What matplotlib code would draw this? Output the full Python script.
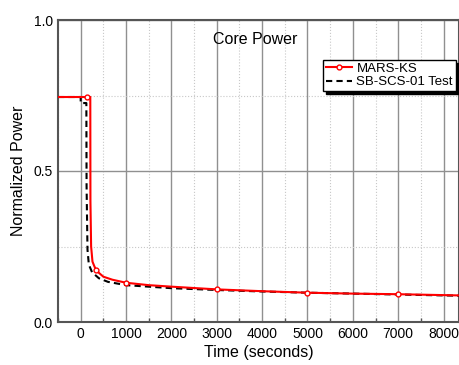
import matplotlib.pyplot as plt
from matplotlib.ticker import MultipleLocator

plt.rcParams['font.family'] = ['Liberation Sans', 'DejaVu Sans']

# MARS-KS calculation
mars_t = [-500, 150, 212, 215, 230, 260, 300, 340, 400, 500, 700, 1000, 1500,
          2000, 3000, 4000, 5000, 6000, 7000, 8350]
mars_p = [0.745, 0.745, 0.745, 0.40, 0.25, 0.20, 0.185, 0.172, 0.163, 0.150,
          0.140, 0.130, 0.122, 0.117, 0.108, 0.102, 0.097, 0.094, 0.092, 0.088]
mars_marks = [1, 7, 11, 14, 16, 18]

# SB-SCS-01 test data
test_t = [-500, 0, 0, 125, 130, 150, 180, 250, 400, 600, 1000, 2000, 3000,
          4000, 5000, 6000, 7000, 8350]
test_p = [0.745, 0.745, 0.725, 0.725, 0.45, 0.24, 0.19, 0.165, 0.145, 0.133,
          0.122, 0.112, 0.106, 0.101, 0.097, 0.094, 0.091, 0.087]

fig = plt.figure(figsize=(4.59, 3.65), dpi=100)
ax = fig.add_axes([58 / 459, 1 - 322 / 365, 1 - 58 / 459, 302 / 365])

ax.plot(test_t, test_p, color='black', linestyle='--', linewidth=1.5,
        dashes=(3, 2), label='SB-SCS-01 Test', zorder=3)
ax.plot(mars_t, mars_p, color='red', linewidth=1.5, marker='o', markersize=3.5,
        markerfacecolor='white', markeredgecolor='red', markevery=mars_marks,
        label='MARS-KS', zorder=4)

ax.set_xlim(-500, 8340)
ax.set_ylim(0, 1.0)
ax.xaxis.set_major_locator(MultipleLocator(1000))
ax.xaxis.set_minor_locator(MultipleLocator(500))
ax.yaxis.set_major_locator(MultipleLocator(0.5))
ax.yaxis.set_minor_locator(MultipleLocator(0.25))
ax.set_xticks(range(0, 8001, 1000))
ax.set_yticks([0.0, 0.5, 1.0])
ax.set_yticklabels(['0.0', '0.5', '1.0'])

ax.grid(True, which='major', color='#909090', linewidth=1.0)
ax.grid(True, which='minor', color='#c8c8c8', linewidth=0.8, linestyle=':')
ax.set_axisbelow(True)
ax.tick_params(which='both', direction='in', labelsize=10, color='#555555')
ax.tick_params(which='major', length=0)
ax.tick_params(axis='x', which='minor', length=3, width=1)
ax.tick_params(axis='y', which='minor', length=0)
for s in ax.spines.values():
    s.set_color('#555555')
    s.set_linewidth(1.5)

ax.set_xlabel('Time (seconds)', fontsize=11.5, labelpad=3)
ax.set_ylabel('Normalized Power', fontsize=11.5, labelpad=6)
ax.text(3850, 0.935, 'Core Power', ha='center', va='center', fontsize=11.5)

h, l = ax.get_legend_handles_labels()
leg = ax.legend(h[::-1], l[::-1], loc='upper left', bbox_to_anchor=(0.662, 0.868),
                fancybox=False, shadow={'color': 'black', 'alpha': 1},
                edgecolor='black', fontsize=9.5, handlelength=2.0,
                borderpad=0.2, labelspacing=0.1, handletextpad=0.3,
                borderaxespad=0, framealpha=1)
leg.get_frame().set_linewidth(1.0)

fig.savefig('out.png', dpi=100)
